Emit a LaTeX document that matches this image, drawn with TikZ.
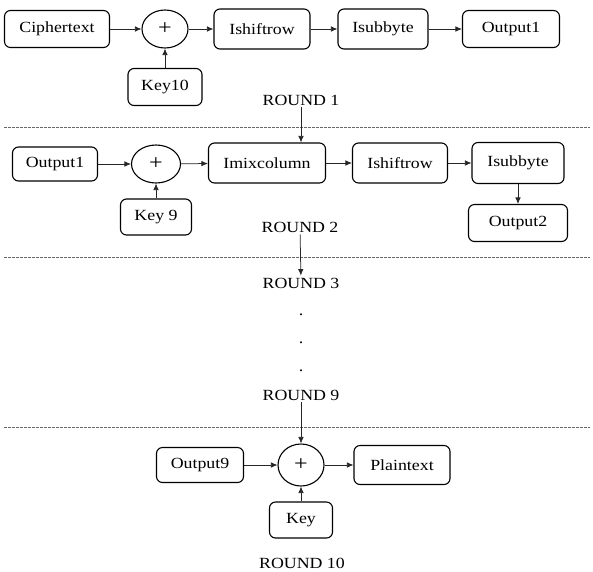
\documentclass[tikz,border=0pt]{standalone}
\usepackage{fontspec}
\setmainfont{Liberation Serif}[FakeStretch=1.15]
\usetikzlibrary{shapes.geometric, arrows.meta, positioning}
\tikzset{
  block/.style={rectangle, rounded corners=6pt, minimum height=37pt, draw=black, line width=1.1pt, align=center, inner sep=2pt},
  xorop/.style={ellipse, minimum width=46pt, minimum height=38pt, draw=black, line width=1.1pt, inner sep=0pt, font=\fontsize{21}{24}\selectfont},
  roundlabel/.style={inner sep=2pt},
  arrow/.style={-{Latex[length=6.5pt, width=5.5pt]}, draw=black!85, line width=0.75pt},
  sep/.style={draw=black!60, dashed, dash pattern=on 2.5pt off 1.5pt, line width=0.7pt},
}

\begin{document}
\begin{tikzpicture}[x=1pt, y=-1pt, every node/.style={font=\fontsize{15.5}{18}\selectfont}]
  \useasboundingbox (0,0) rectangle (593,571);

  % ---- Round 1 ----
  \node (cipher) [block, minimum width=105pt] at (57,29) {Ciphertext};
  \node (xor1) [xorop] at (165,29) {+};
  \node (shift1) [block, minimum width=96pt, minimum height=40pt] at (262,29) {Ishiftrow};
  \node (sub1) [block, minimum width=90pt, minimum height=40pt] at (383,29) {Isubbyte};
  \node (out1) [block, minimum width=97pt] at (511,29) {Output1};
  \node (key10) [block, minimum width=74pt] at (165,87) {Key10};
  \node (r1) [roundlabel] at (301,100) {ROUND 1};

  \draw [sep] (4,127) -- (590,127);

  % ---- Round 2 ----
  \node (out1b) [block, minimum width=85pt, minimum height=34pt] at (55,164) {Output1};
  \node (xor2) [xorop, minimum width=49pt] at (156,164) {+};
  \node (mix) [block, minimum width=117pt, minimum height=40pt] at (267,163) {Imixcolumn};
  \node (shift2) [block, minimum width=95pt, minimum height=40pt] at (400,163) {Ishiftrow};
  \node (sub2) [block, minimum width=92pt, minimum height=41pt] at (518,163) {Isubbyte};
  \node (out2) [block, minimum width=99pt] at (518,223) {Output2};
  \node (key9) [block, minimum width=71pt, minimum height=36pt] at (156,217) {Key 9};
  \node (r2) [roundlabel] at (300,227) {ROUND 2};

  \draw [sep] (4,257) -- (590,257);

  % ---- Rounds 3 to 9 ----
  \node (r3) [roundlabel] at (301,283) {ROUND 3};
  \node (dot1) [roundlabel] at (301,315) {.};
  \node (dot2) [roundlabel] at (301,343) {.};
  \node (dot3) [roundlabel] at (301,371) {.};
  \node (r9) [roundlabel] at (301,395) {ROUND 9};

  \draw [sep] (4,427) -- (590,427);

  % ---- Round 10 ----
  \node (out9) [block, minimum width=87pt, minimum height=35pt] at (200,465) {Output9};
  \node (xor3) [xorop, minimum height=42pt] at (301,465) {+};
  \node (plain) [block, minimum width=96pt, minimum height=39pt] at (402,465) {Plaintext};
  \node (key) [block, minimum width=63pt, minimum height=36pt] at (301,520) {Key};
  \node (r10) [roundlabel] at (302,563) {ROUND 10};

  % ---- Arrows ----
  \draw [arrow] (cipher) -- (xor1);
  \draw [arrow] (xor1) -- (shift1);
  \draw [arrow] (shift1) -- (sub1);
  \draw [arrow] (sub1) -- (out1);
  \draw [arrow] (key10) -- (xor1);
  \draw [arrow] (r1.south) -- (r1.south |- mix.north);
  \draw [arrow] (out1b) -- (xor2);
  \draw [arrow] (xor2) -- (mix);
  \draw [arrow] (mix) -- (shift2);
  \draw [arrow] (shift2) -- (sub2);
  \draw [arrow] (sub2) -- (out2);
  \draw [arrow] (key9) -- (xor2);
  \draw [arrow] (r2) -- (r3);
  \draw [arrow] (r9) -- (xor3);
  \draw [arrow] (out9) -- (xor3);
  \draw [arrow] (xor3) -- (plain);
  \draw [arrow] (key) -- (xor3);

\end{tikzpicture}
\end{document}
